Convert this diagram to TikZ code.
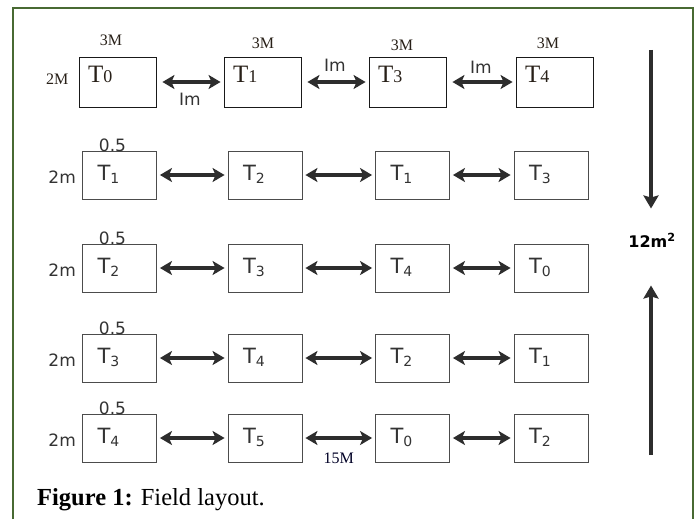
\documentclass[tikz,border=0pt]{standalone}
\usepackage{fontspec}
\setmainfont{Liberation Serif}
\newfontfamily\verd{DejaVu Sans}
\usetikzlibrary{arrows.meta,positioning,calc}
\definecolor{framegreen}{RGB}{72,106,50}
\definecolor{arrowgray}{RGB}{45,45,45}
\definecolor{toptext}{RGB}{40,32,24}
\newcommand{\Tlow}[1]{T\raisebox{-3pt}{\fontsize{14}{14}\selectfont #1}}
\newcommand{\Ttop}[1]{T{\fontsize{18}{18}\selectfont #1}}

\begin{document}
\begin{tikzpicture}[x=1pt,y=-1pt,
    box/.style={draw=black!70,line width=0.9pt,minimum height=48pt,inner ysep=0pt,inner xsep=15pt,text width=44pt,align=left,text height=14pt,text depth=4pt,text=black!80,font=\verd\fontsize{21}{21}\selectfont},
    topbox/.style={box,draw=black!90,minimum height=50pt,inner xsep=9pt,text width=59pt,text height=12pt,text depth=12pt,text=toptext,font=\fontsize{25}{25}\selectfont},
    dbl/.style={{Stealth[length=12pt,width=14pt,inset=3pt]}-{Stealth[length=12pt,width=14pt,inset=3pt]},line width=3.4pt,draw=arrowgray,shorten <=3pt,shorten >=3pt},
    vert/.style={-{Stealth[length=13pt,width=15pt,inset=2pt]},line width=3.8pt,draw=arrowgray},
    sans/.style={inner sep=0pt,text=black!80,font=\verd\fontsize{17}{17}\selectfont},
    serif/.style={inner sep=0pt,text=toptext,font=\fontsize{16}{16}\selectfont},
    frame/.style={draw=framegreen,line width=1.6pt}]
    \useasboundingbox (0,0) rectangle (700,519);
    \fill[white] (0,0) rectangle (700,519);
    \draw[frame] (13,519) -- (13,8) -- (693,8) -- (693,519);

    \node[topbox] (t0) at (117.5,82) {\Ttop{0}};
    \node[topbox] (t1) at (262.5,82) {\Ttop{1}};
    \node[topbox] (t3) at (407.5,82) {\Ttop{3}};
    \node[topbox] (t4) at (554.5,82) {\Ttop{4}};
    \node[serif] at (111,40) {3M};
    \node[serif] at (263,43) {3M};
    \node[serif] at (402,45) {3M};
    \node[serif] at (548,43) {3M};
    \node[serif,left=10pt of t0,yshift=3pt] {2M};
    \draw[dbl,shorten <=6pt] (t0) -- (t1) node[sans,midway,below=9pt] {Im};
    \draw[dbl,shorten <=6pt] (t1) -- (t3) node[sans,midway,above=9pt] {Im};
    \draw[dbl,shorten <=6pt] (t3) -- (t4) node[sans,midway,above=7pt] {Im};

    \foreach \r/\y/\a/\b/\c/\d in {2/175/1/2/1/3,3/268/2/3/4/0,4/358/3/4/2/1,5/438/4/5/0/2}{
        \node[box] (r\r c1) at (119.5,\y) {\Tlow{\a}};
        \node[box] (r\r c2) at (265,\y) {\Tlow{\b}};
        \node[box] (r\r c3) at (412.5,\y) {\Tlow{\c}};
        \node[box] (r\r c4) at (551,\y) {\Tlow{\d}};
        \node[sans,left=6pt of r\r c1,yshift=-2pt] {2m};
        \node[sans,above=-1pt of r\r c1.north,xshift=-7pt] {0.5};
        \draw[dbl] (r\r c1) -- (r\r c2);
        \draw[dbl] (r\r c2) -- (r\r c3);
        \draw[dbl] (r\r c3) -- (r\r c4);
    }
    \path (r5c2) -- (r5c3) node[serif,midway,below=15pt,text=black!85!blue] {15M};

    \node[sans,font=\verd\bfseries\fontsize{16}{16}\selectfont,text=black] (area) at (652,240) {12m\textsuperscript{2}};
    \coordinate (vtop) at (651,50);
    \coordinate (vbot) at (651,455);
    \draw[vert,shorten >=24pt] (vtop) -- (vtop |- area.north);
    \draw[vert,shorten >=38pt] (vbot) -- (vbot |- area.south);

    \node[anchor=base west,inner sep=0pt,font=\fontsize{24.5}{24.5}\selectfont] (cap) at (37,505) {\textbf{Figure 1:} Field layout.};
\end{tikzpicture}
\end{document}
